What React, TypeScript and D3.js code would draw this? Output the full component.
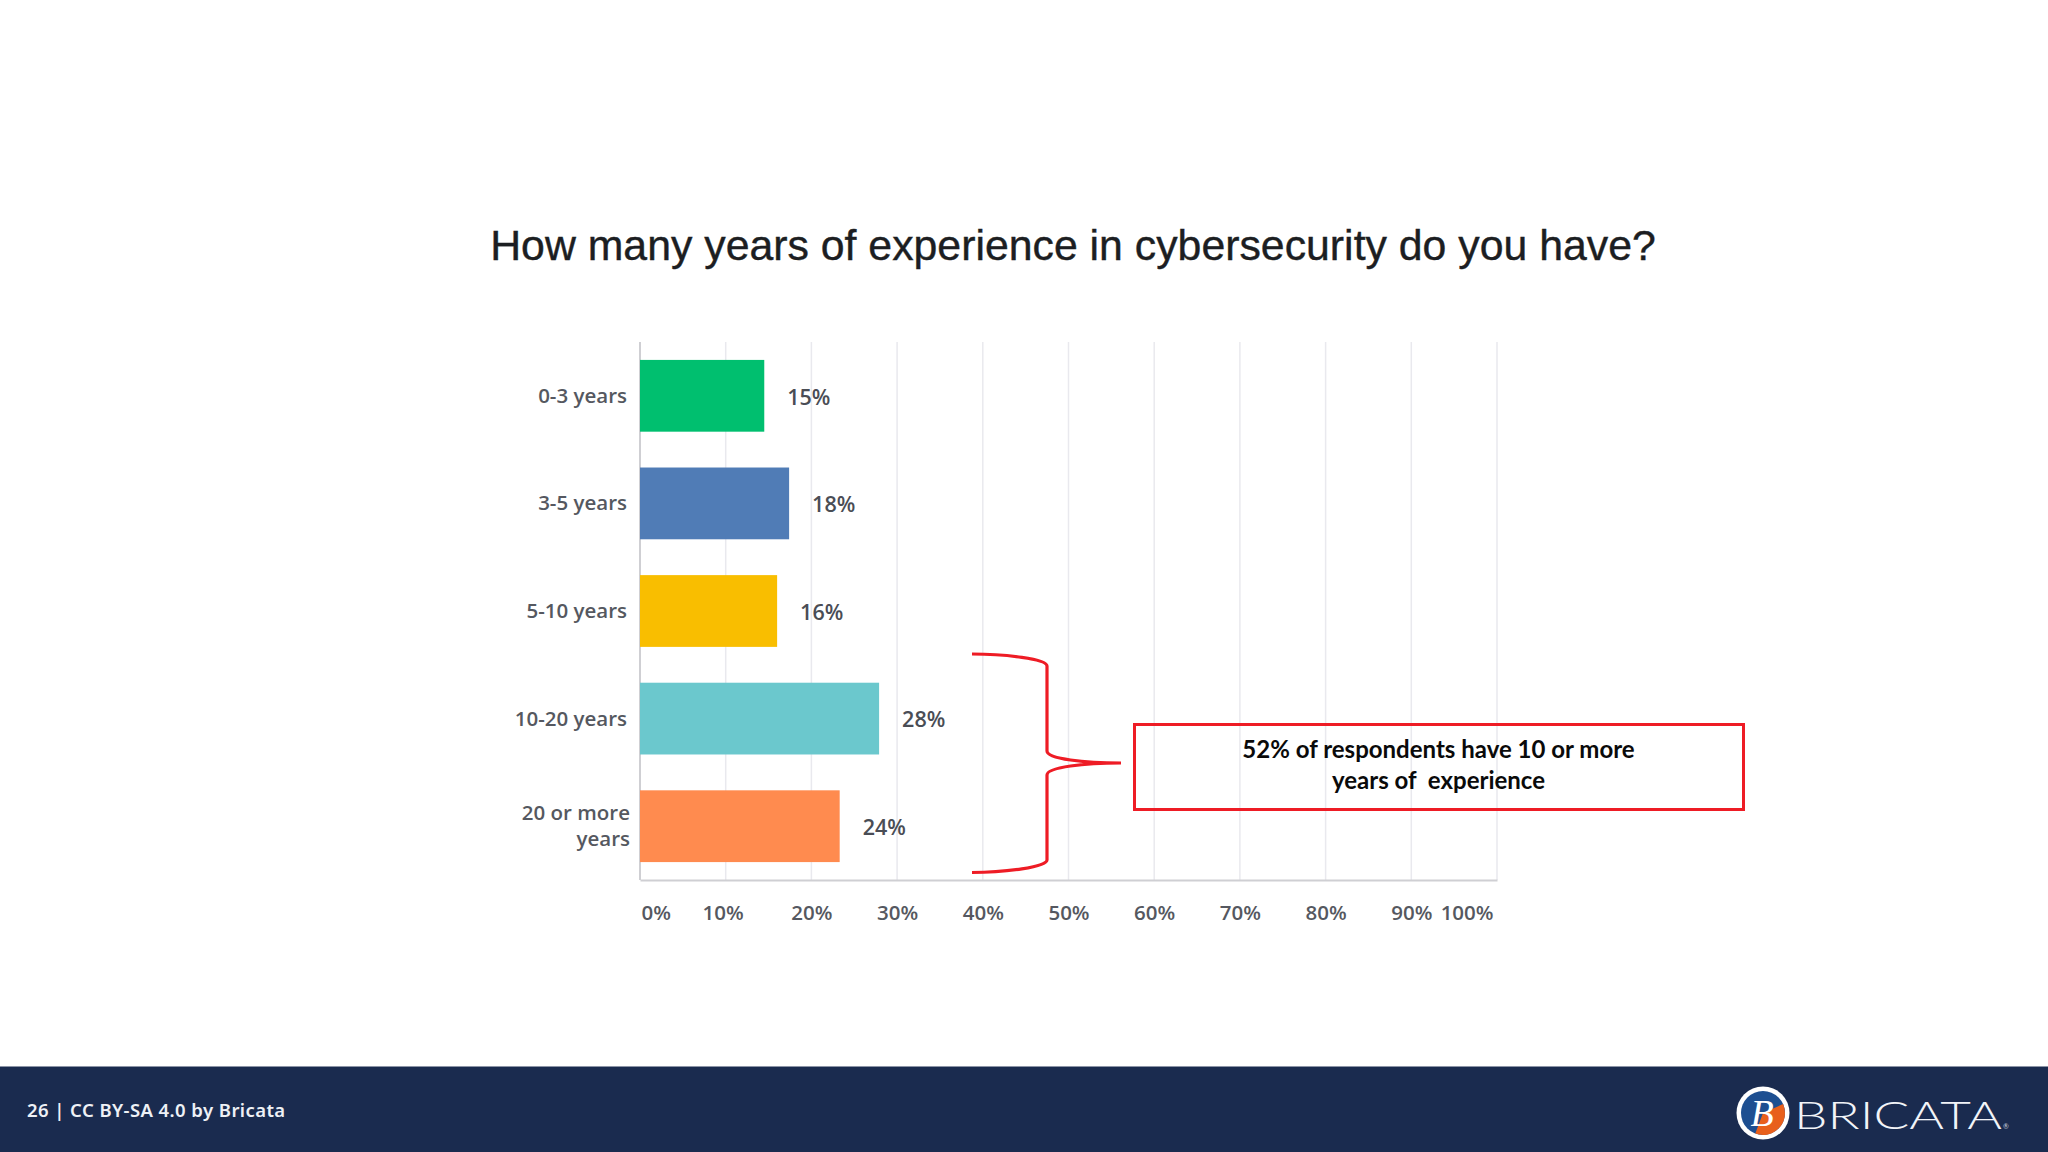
/**
 * Survey chart: years of experience in cybersecurity
 */

import React, { useEffect, useRef } from "react";
import * as d3 from "d3";

const categories = ["0-3 years", "3-5 years", "5-10 years", "10-20 years", "20 or more years"];
const values = [14.5, 17.4, 16, 27.9, 23.3];
const valueLabels = ["15%", "18%", "16%", "28%", "24%"];
const barColors = ["#00bf6f", "#507cb6", "#f9be00", "#6bc8cd", "#ff8b4f"];
const ticks = [0, 10, 20, 30, 40, 50, 60, 70, 80, 90, 100];

const title = "How many years of experience in cybersecurity do you have?";
const noteLines = ["52% of respondents have 10 or more", "years of  experience"];
const footerText = "26 | CC BY-SA 4.0 by Bricata";

const WIDTH = 2048;
const HEIGHT = 1152;
const labelFont = "'Open Sans', sans-serif";

const App: React.FC = () => {
  const svgRef = useRef<SVGSVGElement>(null);

  useEffect(() => {
    if (!svgRef.current) return;
    const svg = d3.select(svgRef.current);
    svg.selectAll("*").remove();

    const margin = { top: 342, left: 640, right: 1497, bottom: 880 };
    const x = d3.scaleLinear().domain([0, 100]).range([margin.left, margin.right]);
    const y = d3
      .scaleBand()
      .domain(categories)
      .range([margin.top, margin.bottom])
      .paddingInner(0.333)
      .paddingOuter(0.1665);

    svg.append("rect").attr("width", WIDTH).attr("height", HEIGHT).attr("fill", "#ffffff");

    // Title
    svg
      .append("text")
      .attr("x", 1073)
      .attr("y", 260)
      .attr("text-anchor", "middle")
      .attr("font-family", "'Liberation Sans', Arial, sans-serif")
      .attr("font-size", 42.8)
      .attr("fill", "#1c1e22")
      .attr("stroke", "#1c1e22")
      .attr("stroke-width", 0.4)
      .text(title);

    // Grid lines
    svg
      .append("g")
      .selectAll("line")
      .data(ticks.slice(1))
      .enter()
      .append("line")
      .attr("x1", (d) => x(d))
      .attr("x2", (d) => x(d))
      .attr("y1", margin.top)
      .attr("y2", margin.bottom)
      .attr("stroke", "#e9e9ee")
      .attr("stroke-width", 1.5);

    // Bottom axis
    const axis = svg
      .append("g")
      .attr("transform", `translate(0,${margin.bottom})`)
      .call(
        d3
          .axisBottom(x)
          .tickValues(ticks)
          .tickSize(0)
          .tickPadding(25)
          .tickFormat((d) => `${d}%`)
      );
    axis.select(".domain").attr("stroke", "#cfcfd3").attr("stroke-width", 2);
    axis
      .selectAll("text")
      .attr("font-family", labelFont)
      .attr("font-size", 20.5)
      .attr("font-weight", 600)
      .attr("fill", "#555860");
    // End labels are pulled in so they stay inside the plot
    axis
      .selectAll<SVGTextElement, number>("text")
      .filter((d) => d === 0)
      .attr("text-anchor", "start")
      .attr("x", 1);
    axis
      .selectAll<SVGTextElement, number>("text")
      .filter((d) => d === 10)
      .attr("x", -3);
    axis
      .selectAll<SVGTextElement, number>("text")
      .filter((d) => d === 100)
      .attr("text-anchor", "end")
      .attr("x", -4);

    // Left axis line
    svg
      .append("line")
      .attr("x1", margin.left)
      .attr("x2", margin.left)
      .attr("y1", margin.top)
      .attr("y2", margin.bottom)
      .attr("stroke", "#cfcfd3")
      .attr("stroke-width", 2);

    // Bars
    svg
      .append("g")
      .selectAll("rect")
      .data(categories)
      .enter()
      .append("rect")
      .attr("x", margin.left)
      .attr("y", (d) => y(d) || 0)
      .attr("width", (_, i) => x(values[i]) - margin.left)
      .attr("height", y.bandwidth())
      .attr("fill", (_, i) => barColors[i]);

    // Value labels
    svg
      .append("g")
      .selectAll("text")
      .data(categories)
      .enter()
      .append("text")
      .attr("x", (_, i) => x(values[i]) + 23)
      .attr("y", (d) => (y(d) || 0) + y.bandwidth() / 2 + 1)
      .attr("dy", "0.36em")
      .attr("font-family", labelFont)
      .attr("font-size", 21.5)
      .attr("font-weight", 600)
      .attr("fill", "#4a4d55")
      .text((_, i) => valueLabels[i]);

    // Category labels, the long one wraps on two lines
    categories.forEach((c) => {
      const cy = (y(c) || 0) + y.bandwidth() / 2;
      const lines = c === "20 or more years" ? ["20 or more", "years"] : [c];
      lines.forEach((line, j) => {
        svg
          .append("text")
          .attr("x", lines.length > 1 ? 630 : 627)
          .attr("y", cy + (j - (lines.length - 1) / 2) * 26)
          .attr("dy", "0.34em")
          .attr("text-anchor", "end")
          .attr("font-family", labelFont)
          .attr("font-size", 20.5)
          .attr("font-weight", 600)
          .attr("fill", "#555860")
          .text(line);
      });
    });

    // Red brace over the last two categories
    const brace = d3.path();
    brace.moveTo(972, 654);
    brace.bezierCurveTo(1005, 654, 1047, 659, 1047, 666);
    brace.lineTo(1047, 751);
    brace.bezierCurveTo(1047, 759, 1085, 763, 1121, 763);
    brace.bezierCurveTo(1085, 763, 1047, 767, 1047, 775);
    brace.lineTo(1047, 860);
    brace.bezierCurveTo(1047, 867, 1005, 872.5, 972, 872.5);
    svg
      .append("path")
      .attr("d", brace.toString())
      .attr("fill", "none")
      .attr("stroke", "#ee1c25")
      .attr("stroke-width", 3.2);

    // Callout box
    svg
      .append("rect")
      .attr("x", 1134.5)
      .attr("y", 724.5)
      .attr("width", 609)
      .attr("height", 85)
      .attr("fill", "none")
      .attr("stroke", "#ee1c25")
      .attr("stroke-width", 3);
    noteLines.forEach((line, i) => {
      svg
        .append("text")
        .attr("x", 1438.5)
        .attr("y", 757.5 + i * 31)
        .attr("text-anchor", "middle")
        .attr("font-family", "Lato, sans-serif")
        .attr("font-size", 24)
        .attr("font-weight", 700)
        .attr("fill", "#0a0a0a")
        .style("white-space", "pre")
        .text(line);
    });

    // Footer band
    svg
      .append("rect")
      .attr("x", 0)
      .attr("y", 1066.5)
      .attr("width", WIDTH)
      .attr("height", HEIGHT - 1066.5)
      .attr("fill", "#1a2b4f");
    svg
      .append("text")
      .attr("x", 27)
      .attr("y", 1117)
      .attr("font-family", "'Noto Sans', sans-serif")
      .attr("font-size", 18.5)
      .attr("font-weight", 600)
      .attr("letter-spacing", 0.42)
      .attr("fill", "#eef1f6")
      .text(footerText);

    // Logo
    const logo = svg.append("g").attr("transform", "translate(1763,1113)");
    logo.append("circle").attr("r", 26.5).attr("fill", "#ffffff");
    logo.append("circle").attr("r", 22).attr("fill", "#1d4f91");
    logo
      .append("path")
      .attr("d", d3.arc()({ innerRadius: 0, outerRadius: 22, startAngle: 1.15, endAngle: 3.5 }) || "")
      .attr("fill", "#e8601c");
    logo
      .append("text")
      .attr("x", -1)
      .attr("y", 13)
      .attr("text-anchor", "middle")
      .attr("font-family", "'Liberation Serif', serif")
      .attr("font-style", "italic")
      .attr("font-size", 38)
      .attr("fill", "#ffffff")
      .text("B");
    svg
      .append("text")
      .attr("x", 1794)
      .attr("y", 1128.5)
      .attr("font-family", "Lato, sans-serif")
      .attr("font-weight", 300)
      .attr("font-size", 38)
      .attr("textLength", 208)
      .attr("lengthAdjust", "spacingAndGlyphs")
      .attr("fill", "#f2f4f8")
      .text("BRICATA");
    svg
      .append("text")
      .attr("x", 2003)
      .attr("y", 1129)
      .attr("font-family", "Lato, sans-serif")
      .attr("font-size", 7)
      .attr("fill", "#c9d0dc")
      .text("®");
  }, []);

  return (
    <svg
      ref={svgRef}
      width={WIDTH}
      height={HEIGHT}
      style={{ position: "absolute", left: 0, top: 0, display: "block" }}
    />
  );
};

export default App;
